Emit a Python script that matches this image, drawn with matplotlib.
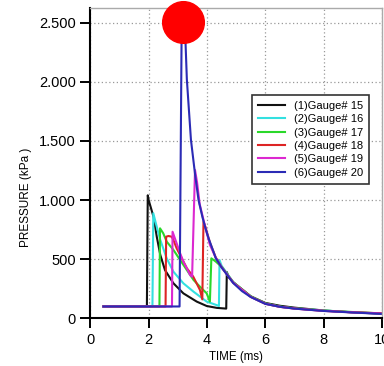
import matplotlib.pyplot as plt

plt.rcParams['font.family'] = ['Liberation Sans', 'DejaVu Sans']

# gauge traces, time in ms / pressure in kPa
t1 = [0.45, 1.94, 1.97, 2.0, 2.17, 2.28, 2.4, 2.56, 2.85, 3.19, 3.65, 3.99, 4.34, 4.66, 4.68, 4.75,
      4.9, 5.5, 6.0, 6.5, 7.0, 8.0, 9.0, 10.0]
p1 = [100, 100, 1040, 1000, 856, 688, 535, 408, 296, 211, 141, 104, 88, 82, 391, 345,
      305, 186, 130, 106, 90, 66, 50, 39]

t2 = [0.45, 2.13, 2.16, 2.28, 2.4, 2.62, 2.85, 3.19, 3.54, 3.99, 4.33, 4.41, 4.43, 4.5,
      4.9, 5.5, 6.0, 6.5, 7.0, 8.0, 9.0, 10.0]
p2 = [100, 100, 888, 772, 662, 507, 394, 296, 225, 141, 112, 104, 493, 445,
      306, 183, 124, 98, 84, 66, 52, 40]

t3 = [0.45, 2.37, 2.39, 2.5, 2.62, 2.85, 3.08, 3.31, 3.54, 3.76, 3.99, 4.1, 4.15, 4.3, 4.5,
      4.9, 5.5, 6.0, 6.5, 7.0, 8.0, 9.0, 10.0]
p3 = [100, 100, 761, 719, 648, 578, 493, 408, 324, 267, 211, 141, 507, 480, 436,
      305, 186, 126, 99, 84, 65, 53, 41]

t4 = [0.45, 2.58, 2.6, 2.68, 2.79, 2.85, 2.96, 3.08, 3.31, 3.53, 3.76, 3.84, 3.88, 3.95, 4.1,
      4.3, 4.5, 4.9, 5.5, 6.0, 6.5, 7.0, 8.0, 9.0, 10.0]
p4 = [100, 100, 690, 696, 690, 662, 592, 535, 423, 352, 239, 160, 817, 770, 640,
      515, 433, 302, 182, 123, 97, 83, 63, 51, 42]

t5 = [0.45, 2.8, 2.82, 2.96, 3.08, 3.19, 3.31, 3.42, 3.49, 3.59, 3.66, 3.75, 3.95, 4.1,
      4.3, 4.5, 4.9, 5.5, 6.0, 6.5, 7.0, 8.0, 9.0, 10.0]
p5 = [100, 100, 732, 634, 550, 479, 423, 366, 352, 1254, 1150, 965, 762, 622,
      512, 432, 301, 181, 123, 97, 82, 63, 50, 40]

t6 = [0.45, 3.06, 3.13, 3.18, 3.25, 3.31, 3.45, 3.6, 3.71, 3.85, 3.95, 4.05, 4.3, 4.5,
      4.9, 5.2, 5.5, 6.0, 6.5, 7.0, 8.0, 9.0, 10.0]
p6 = [100, 100, 2400, 2505, 2430, 2020, 1510, 1200, 1000, 850, 760, 680, 510, 430,
      298, 230, 180, 122, 97, 82, 62, 49, 37]

labels = ['(1)Gauge# 15', '(2)Gauge# 16', '(3)Gauge# 17',
          '(4)Gauge# 18', '(5)Gauge# 19', '(6)Gauge# 20']
colors = ['#111111', '#33e0e0', '#2ad82a', '#dd2424', '#dc28d0', '#2b2bb5']

xticks = [0, 2, 4, 6, 8, 10]
yticks = [0, 500, 1000, 1500, 2000, 2500]
ytick_labels = ['0', '500', '1.000', '1.500', '2.000', '2.500']

fig = plt.figure(figsize=(3.84, 3.66), dpi=100)
ax = fig.add_axes([90.3 / 384, (366 - 318.3) / 366, 291.7 / 384, 310.3 / 366])

series = [(t1, p1), (t2, p2), (t3, p3), (t4, p4), (t5, p5), (t6, p6)]
for (t, p), lab, c in zip(series, labels, colors):
    ax.plot(t, p, color=c, lw=1.5, label=lab)

# mark the maximum of gauge 20
i = p6.index(max(p6))
ax.plot(t6[i], p6[i], 'o', color='red', ms=30, clip_on=False, zorder=10)

ax.set_xlim(0, 10)
ax.set_ylim(0, 2624)
ax.set_xticks(xticks)
ax.set_yticks(yticks)
ax.set_yticklabels(ytick_labels)
ax.tick_params(direction='out', length=7, width=1.4, labelsize=10.5, pad=3.5)
ax.grid(True, color='#999999', lw=0.9, linestyle=(0, (1, 2)))

for s in ['left', 'bottom']:
    ax.spines[s].set_linewidth(1.5)
for s in ['top', 'right']:
    ax.spines[s].set_color('#aaaaaa')
    ax.spines[s].set_linewidth(1.0)

ax.set_xlabel('TIME (ms)', fontsize=8.3)
ax.xaxis.set_label_coords(0.5, -0.105)
ax.set_ylabel('PRESSURE (kPa )', fontsize=8.5)
ax.yaxis.set_label_coords(-0.2, 0.391)

leg = ax.legend(loc='upper left', bbox_to_anchor=(0.554, 0.72), fancybox=False,
                edgecolor='#333333', fontsize=8, handlelength=2.4, handletextpad=0.8,
                labelspacing=0.3, borderpad=0.55, borderaxespad=0, framealpha=1)
leg.get_frame().set_linewidth(1.2)

fig.savefig('out.png', dpi=100)
